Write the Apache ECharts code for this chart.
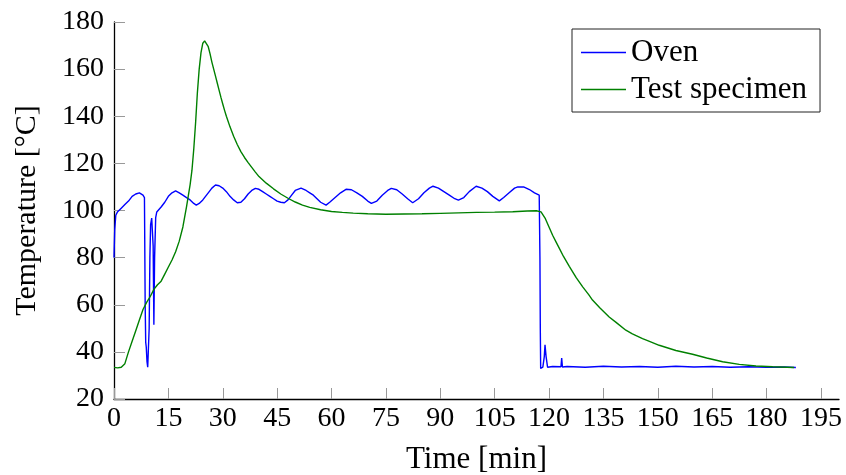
<!DOCTYPE html>
<html>
<head>
<meta charset="utf-8">
<script src="https://cdn.jsdelivr.net/npm/echarts@6/dist/echarts.min.js"></script>
<style>html,body{margin:0;padding:0;background:#fff}#c{width:846px;height:475px}</style>
</head>
<body>
<div id="c"></div>
<script>
var seriesNames = ['Oven', 'Test specimen'];
var xTickValues = [0,15,30,45,60,75,90,105,120,135,150,165,180,195];
var yTickValues = [20,40,60,80,100,120,140,160,180];

var ovenTime = [0,0.2,0.5,1,2,3,4,5,6,7,8,8.4,8.6,8.75,8.9,9.0,9.1,9.3,9.5,9.7,9.9,10.1,10.4,10.6,10.8,11.0,11.2,11.5,11.8,
13,14,15,16,17,18,19,20,21,22,22.7,23.5,24.5,26,27,28,29,30,31,32,33,34,35,36,37,38,39,40,41,42,43,44,45,46,47,48,49,50,51.6,
53,54,55,56,57,58.5,59.5,61,62.5,64,65.5,67,68.5,70,71,72.5,74,75.5,76.5,78,79.5,81,82.4,84,85.5,87,88,89.5,91,92.5,94,95,
96.5,98,99.9,101.5,103,104.5,106.3,107.5,109,110.5,111.4,113,114.6,116,117.3,117.5,117.6,117.7,118.3,118.7,118.9,119.2,119.6,
121,123.3,123.5,123.7,125,130,135,140,145,150,155,160,165,170,175,180,185,188.1];
var ovenTemp = [80,92,98,99.5,101,102.5,104,106,107,107.5,106.5,105.5,60,44,42,41.5,36,33.5,34,50,80,94,96.8,96,85,51.5,80,97,99.4,
101.5,103.5,106,107.5,108.3,107.5,106.5,105.5,104.5,103,102.3,103,104.5,107.5,109.5,110.8,110.5,109.5,108,106,104.5,103.3,103.5,105,107,108.5,109.4,109,108,107,106,105,104,103.5,103.3,104.5,106.5,108.5,109.5,
108.5,107.5,106.5,105,103.5,102.3,103.5,105.5,107.5,109,108.8,107.5,106,104,103,104,106.5,108.5,109.4,108.8,107,105,103.3,105,107.5,109.5,110.3,109.5,108,106.5,105,104.4,
105.5,108,110.3,109.5,108,106,104.1,105.5,107.5,109.5,110,110,108.9,107.5,106.5,80,50,33,33.5,38,43,38,33.5,
33.8,33.7,37.4,33.6,33.8,33.5,33.9,33.6,33.8,33.5,33.9,33.6,33.8,33.5,33.7,33.5,33.6,33.4];

var specTime = [0,1,2,2.5,3,4,5,6,7,8,9,9.4,10,11,12,13,14,15,16,17,18,19,20,21,21.5,22,22.5,23,23.5,24,24.5,25,25.5,26,26.5,27,27.5,28,28.5,29,29.5,30,
30.5,31,32,33,34,35,36,37,38,39,40,42,44,46,48,50,52,54,57,60,63,66,70,75,80,85,90,95,100,105,110,114,116.5,117.8,119,120,121,122,123,124,
125.6,127.5,129.3,131,132,134,136.6,138.5,141.2,143,145.8,147.2,150.4,155,159.6,163.5,167.9,172.5,177.1,181.7,187.6];
var specTemp = [33.4,33.2,33.5,33,35,40,44.5,49,53.5,58,61,61.5,63.5,66.5,68.5,70,73,76,79,82.5,87,93,101.5,111,117,126,137,150,160,167,171,172,171.5,169.5,166.5,163,160,157,154,151,148,145.2,
142.5,140,135.5,131.5,128,125,122.5,120.3,118.3,116.3,114.4,111.6,109.2,107,105.2,103.6,102.3,101.3,100.3,99.6,99.2,98.9,98.6,98.4,98.5,98.6,98.8,99,99.2,99.3,99.5,99.8,99.9,99.4,96.5,93,89.5,86.5,83.5,80.5,
76.3,71.5,67.6,64.2,62,58.7,54.8,52.5,49.2,47.6,45.6,44.8,42.8,40.6,39,37.4,35.8,34.7,34,33.7,33.4];

function pairs(xs, ys) { return xs.map(function (x, i) { return [x, ys[i]]; }); }

var font = 'Liberation Serif';
var chart = echarts.init(document.getElementById('c'), null, {renderer: 'canvas'});
chart.setOption({
  animation: false,
  backgroundColor: '#fff',
  grid: {left: 114, right: 7, top: 22, bottom: 76, containLabel: false, outerBoundsMode: 'none'},
  legend: {
    orient: 'vertical', left: 572, top: 29,
    padding: [8, 13, 7, 9], itemGap: 6,
    borderColor: '#222', borderWidth: 1,
    itemWidth: 45, itemHeight: 1.3,
    icon: 'rect',
    textStyle: {fontFamily: font, fontSize: 31, color: '#000', lineHeight: 30},
    data: seriesNames
  },
  xAxis: {
    type: 'value', min: 0, max: 200,
    name: 'Time [min]', nameLocation: 'middle', nameGap: 45,
    nameTextStyle: {fontFamily: font, fontSize: 31, color: '#000'},
    axisLine: {show: true, lineStyle: {color: '#000', width: 1.3}},
    axisTick: {show: true, inside: true, length: 11, lineStyle: {color: '#999', width: 1}, customValues: xTickValues},
    axisLabel: {fontFamily: font, fontSize: 28, color: '#000', margin: 6, customValues: xTickValues},
    splitLine: {show: false}
  },
  yAxis: {
    type: 'value', min: 20, max: 180, interval: 20,
    name: 'Temperature [°C]', nameLocation: 'middle', nameGap: 72,
    nameTextStyle: {fontFamily: font, fontSize: 30, color: '#000'},
    axisLine: {show: true, lineStyle: {color: '#000', width: 1.3}},
    axisTick: {show: true, inside: true, length: 11, lineStyle: {color: '#999', width: 1}, customValues: yTickValues},
    axisLabel: {fontFamily: font, fontSize: 28, color: '#000', margin: 10, customValues: yTickValues},
    splitLine: {show: false}
  },
  series: [
    {name: seriesNames[0], type: 'line', showSymbol: false, color: '#0000ff',
     lineStyle: {color: '#0000ff', width: 1.4}, data: pairs(ovenTime, ovenTemp)},
    {name: seriesNames[1], type: 'line', showSymbol: false, color: '#008000',
     lineStyle: {color: '#008000', width: 1.4}, data: pairs(specTime, specTemp)}
  ]
});
</script>
</body>
</html>
